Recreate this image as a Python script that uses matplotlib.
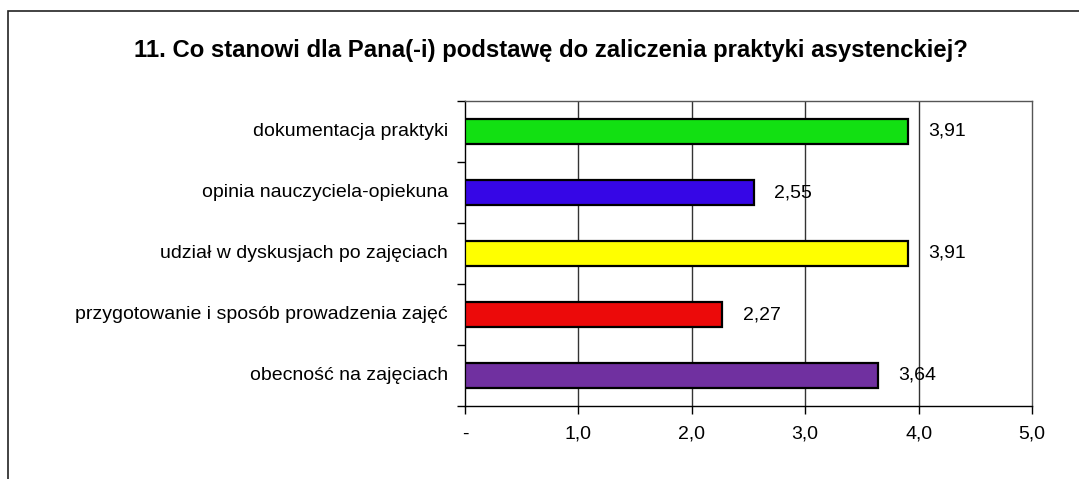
import matplotlib
matplotlib.use("Agg")
import matplotlib.pyplot as plt
from matplotlib.patches import Rectangle

# Data
categories = [
    "dokumentacja praktyki",
    "opinia nauczyciela-opiekuna",
    "udział w dyskusjach po zajęciach",
    "przygotowanie i sposób prowadzenia zajęć",
    "obecność na zajęciach",
]
values = [3.91, 2.55, 3.91, 2.27, 3.64]
value_labels = ["3,91", "2,55", "3,91", "2,27", "3,64"]
bar_colors = ["#12e012", "#3606e6", "#ffff00", "#ec0a0a", "#7030a0"]
x_ticks = [0, 1, 2, 3, 4, 5]
x_tick_labels = ["-", "1,0", "2,0", "3,0", "4,0", "5,0"]
title = "11. Co stanowi dla Pana(-i) podstawę do zaliczenia praktyki asystenckiej?"

plt.rcParams["font.family"] = ["Liberation Sans", "DejaVu Sans"]

W, H = 1079, 479
fig = plt.figure(figsize=(W / 100, H / 100), dpi=100)
fig.patch.set_facecolor("white")

# outer chart frame (extends past the right and bottom edges)
fig.add_artist(Rectangle((8 / W, -0.1), 1.2, 1.1 - 11 / H,
                         transform=fig.transFigure, fill=False,
                         edgecolor="#222222", linewidth=1.2))

left, right, top, bottom = 465, 1032, 101, 406
ax = fig.add_axes([left / W, 1 - bottom / H, (right - left) / W, (bottom - top) / H])

n = len(categories)
ypos = list(range(n))
ax.barh(ypos, values, height=0.41, color=bar_colors, edgecolor="black",
        linewidth=1.6, zorder=3)
ax.set_ylim(n - 0.5, -0.5)
ax.set_xlim(0, 5)

fs = 14
for y, v, lab in zip(ypos, values, value_labels):
    ax.annotate(lab, (v, y), xytext=(14.5, 0), textcoords="offset points",
                ha="left", va="center", fontsize=fs, zorder=4)

# vertical gridlines
for xv in x_ticks[1:-1]:
    ax.axvline(xv, color="#333333", linewidth=1.0, zorder=1)

ax.set_xticks(x_ticks)
ax.set_xticklabels(x_tick_labels, fontsize=fs)
ax.tick_params(axis="x", direction="out", length=6, width=1.0, pad=8, colors="black")

# category labels between tick marks
ax.set_yticks([i - 0.5 for i in range(n + 1)])
ax.set_yticklabels([])
ax.tick_params(axis="y", direction="out", length=6, width=1.0)
for y, c in zip(ypos, categories):
    ax.text(-0.03, y, c, transform=ax.get_yaxis_transform(), ha="right",
            va="center", fontsize=fs)

for s in ["top", "right"]:
    ax.spines[s].set_color("#555555")
    ax.spines[s].set_linewidth(1.0)
for s in ["left", "bottom"]:
    ax.spines[s].set_color("black")
    ax.spines[s].set_linewidth(1.0)

fig.text(551 / W, 1 - 50 / H, title, ha="center", va="center",
         fontsize=17.2, fontweight="bold")

fig.savefig("out.png", dpi=100)
